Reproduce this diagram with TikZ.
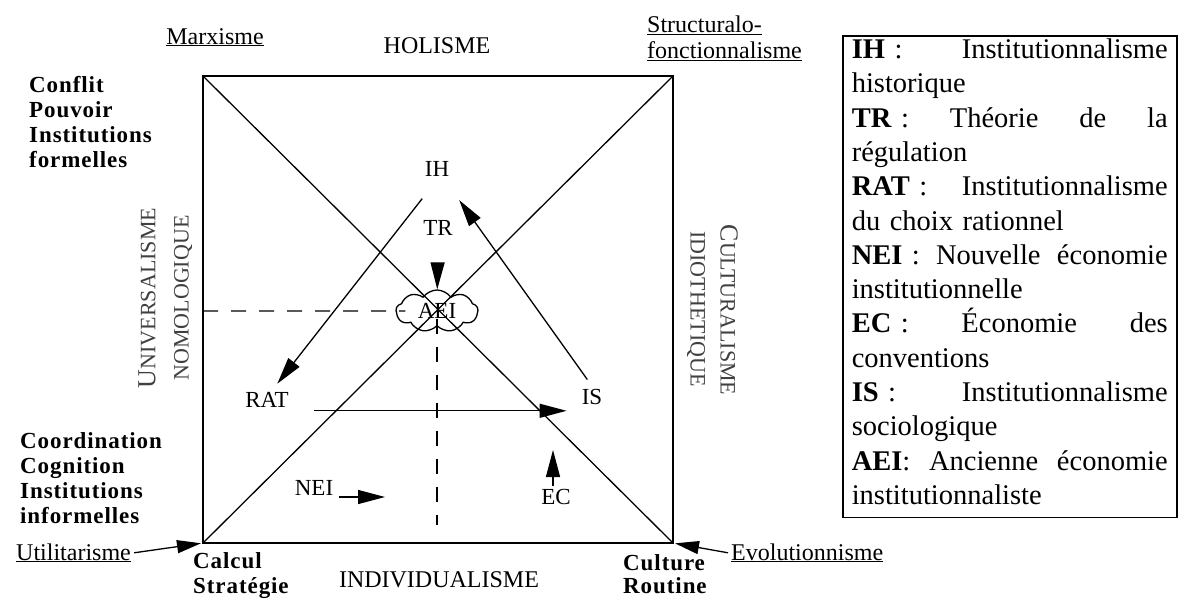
\documentclass[tikz,border=0pt]{standalone}
\usepackage{fontspec}
\setmainfont{Liberation Serif}
\newfontfamily\grasespace[LetterSpace=4]{Liberation Serif}
\usetikzlibrary{arrows.meta,positioning,shapes.symbols}
\definecolor{grisaxe}{gray}{0.25}
\newcommand{\petitcap}[2]{{\fontsize{26}{26}\selectfont #1}{\fontsize{22}{22}\selectfont #2}}

\begin{document}
\begin{tikzpicture}[x=1pt, y=-1pt, >={Triangle[length=27pt,width=14pt]},
  texte/.style={font=\fontsize{24}{26}\selectfont, inner sep=3pt},
  sigle/.style={font=\fontsize{23}{25}\selectfont, inner sep=3pt},
  gras/.style={font=\grasespace\bfseries\fontsize{23}{25}\selectfont, align=left, inner sep=0pt, anchor=north west},
  axe/.style={text=grisaxe, inner sep=0pt},
  fleche/.style={->, line width=1.3pt},
  tirets/.style={line width=1.2pt, dash pattern=on 15pt off 13pt}]
\useasboundingbox (0,0) rectangle (1178,600);

\coordinate (hg) at (203,76);
\coordinate (hd) at (673,76);
\coordinate (bg) at (203,543);
\coordinate (bd) at (673,543);
\draw[line width=1.6pt] (hg) rectangle (bd);
\draw[line width=1.3pt] (hg) -- (bd);
\draw[line width=1.3pt] (hd) -- (bg);

\node[sigle] (ih)  at (437,169) {IH};
\node[sigle] (tr)  at (438,228) {TR};
\node[sigle, cloud, draw, line width=1.3pt, cloud puffs=9, cloud puff arc=110, aspect=2.2,
      minimum width=82pt, minimum height=42pt, inner sep=0pt] (aei) at (437,311) {AEI};
\node[sigle] (rat) at (267,400) {RAT};
\node[sigle] (is)  at (592,397) {IS};
\node[sigle] (nei) at (314,488) {NEI};
\node[sigle] (ec)  at (556,497) {EC};
\coordinate (neibout) at (385,497);
\coordinate (ecbout) at (553,450);
\coordinate (pied) at (439,525);

\draw[tirets] (hg |- aei) -- ([xshift=10pt]aei.west);
\draw[tirets] ([yshift=8pt]aei.south) -- (aei.south |- pied);
\draw[fleche, shorten <=24pt, shorten >=7pt] (ih.south) -- ([xshift=6pt]rat.north);
\draw[fleche, shorten <=8pt, shorten >=25pt] (is.north) -- (ih);
\draw[fleche, shorten <=22pt, shorten >=12pt] (rat.south east) -- (rat.south east -| is.west);
\draw[fleche, shorten <=24pt] (tr) -- (aei);
\draw[fleche, shorten <=3pt] (nei.east |- neibout) -- (neibout);
\draw[fleche] (ec.north -| ecbout) -- (ecbout);

\node[texte, anchor=base] (holisme) at (437,53) {HOLISME};
\node[texte, anchor=base] (individu) at (439,587) {INDIVIDUALISME};
\node[texte, anchor=base] (marx) at (215,44) {\underline{Marxisme}};
\node[texte, anchor=north west, align=left, inner sep=0pt] (struct) at (647,16)
  {\underline{Structuralo-}\\ \underline{fonctionnalisme}};
\node[texte, anchor=base west] (util) at (13,560) {\underline{Utilitarisme}};
\node[texte, anchor=base west] (evo) at (728,560) {\underline{Evolutionnisme}};
\draw[fleche, >={Triangle[length=24pt,width=13pt]}, shorten >=2pt] (util.east) -- (bg);
\draw[fleche, >={Triangle[length=24pt,width=13pt]}, shorten >=2pt] (evo.west) -- (bd);

\node[gras] (conflit) at (29,76) {Conflit\\ Pouvoir\\ Institutions\\ formelles};
\node[gras] (coord) at (20,432) {Coordination\\ Cognition\\ Institutions\\ informelles};
\node[gras] (calcul) at (193,552) {Calcul\\ Stratégie};
\node[gras, font=\grasespace\bfseries\fontsize{23}{23}\selectfont] (culture) at (623,554) {Culture\\ Routine};

\node[axe, rotate=90] (univ) at (147,298) {\petitcap{U}{NIVERSALISME}};
\node[axe, rotate=90, font=\fontsize{22}{22}\selectfont] (nomo) at (183,298) {NOMOLOGIQUE};
\node[axe, rotate=-90] (cult) at (729,310) {\petitcap{C}{ULTURALISME}};
\node[axe, rotate=-90, font=\fontsize{22}{22}\selectfont] (idio) at (696,309) {IDIOTHETIQUE};

\node[draw, line width=1.5pt, anchor=north west, text width=316pt, inner xsep=9pt, inner ysep=3pt,
      align=left, font=\fontsize{28.5}{34.3}\selectfont] (legende) at (842,35)
  {\textbf{IH} :\hfill Institutionnalisme\\
   historique\\
   \textbf{TR} :\hfill Théorie\hfill de\hfill la\\
   régulation\\
   \textbf{RAT} :\hfill Institutionnalisme\\
   du choix rationnel\\
   \textbf{NEI} :\hfill Nouvelle\hfill économie\\
   institutionnelle\\
   \textbf{EC} :\hfill Économie\hfill des\\
   conventions\\
   \textbf{IS} :\hfill Institutionnalisme\\
   sociologique\\
   \textbf{AEI}:\hfill Ancienne\hfill économie\\
   institutionnaliste\strut};
\end{tikzpicture}
\end{document}
